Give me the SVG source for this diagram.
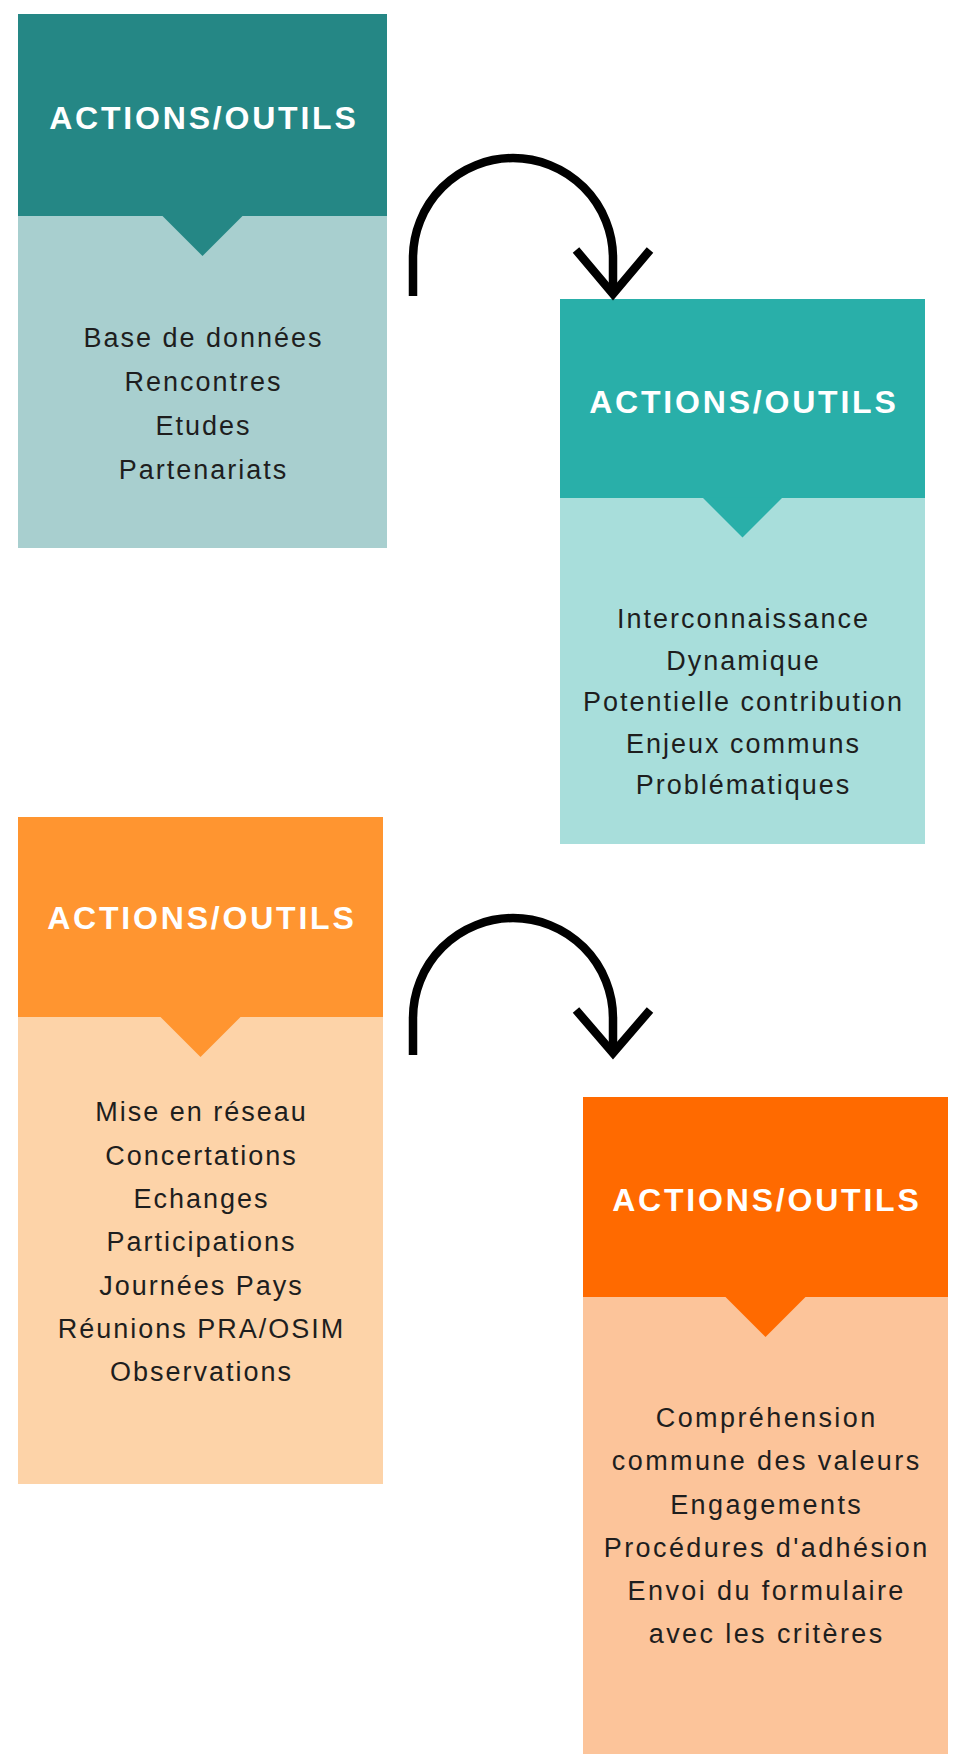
<svg xmlns="http://www.w3.org/2000/svg" width="959" height="1754" viewBox="0 0 959 1754">
<style>
.title{font-family:"Liberation Sans",Arial,sans-serif;font-weight:bold;font-size:32px;fill:#ffffff;text-anchor:middle;letter-spacing:2.8px}
.body{font-family:"Liberation Sans",Arial,sans-serif;font-size:27px;fill:#1e1e1e;text-anchor:middle;letter-spacing:2px}
.arrow{fill:none;stroke:#000000;stroke-width:8.5}
</style>
<rect x="0" y="0" width="959" height="1754" fill="#ffffff"/>
<g id="node1">
<rect x="18" y="14" width="369" height="534" fill="#A8CFCF"/>
<rect x="18" y="14" width="369" height="202" fill="#258785"/>
<polygon points="162.5,216 242.5,216 202.5,256" fill="#258785"/>
<text class="title" x="203.9" y="129">ACTIONS/OUTILS</text>
<text class="body" x="203.5" y="347">Base de données</text>
<text class="body" x="203.5" y="391">Rencontres</text>
<text class="body" x="203.5" y="435">Etudes</text>
<text class="body" x="203.5" y="479">Partenariats</text>
</g>
<g id="node2">
<rect x="560" y="299" width="365" height="545" fill="#A8DEDB"/>
<rect x="560" y="299" width="365" height="199" fill="#29AFA9"/>
<polygon points="702.5,497.5 782.5,497.5 742.5,537.5" fill="#29AFA9"/>
<text class="title" x="743.9" y="413">ACTIONS/OUTILS</text>
<text class="body" x="743.5" y="628">Interconnaissance</text>
<text class="body" x="743.5" y="670">Dynamique</text>
<text class="body" x="743.5" y="711">Potentielle contribution</text>
<text class="body" x="743.5" y="753">Enjeux communs</text>
<text class="body" x="743.5" y="794">Problématiques</text>
</g>
<g id="node3">
<rect x="18" y="817" width="365" height="667" fill="#FDD3A8"/>
<rect x="18" y="817" width="365" height="200" fill="#FF9530"/>
<polygon points="160.5,1017 240.5,1017 200.5,1057" fill="#FF9530"/>
<text class="title" x="201.9" y="929">ACTIONS/OUTILS</text>
<text class="body" x="201.5" y="1121">Mise en réseau</text>
<text class="body" x="201.5" y="1165">Concertations</text>
<text class="body" x="201.5" y="1208">Echanges</text>
<text class="body" x="201.5" y="1251">Participations</text>
<text class="body" x="201.5" y="1295">Journées Pays</text>
<text class="body" x="201.5" y="1338">Réunions PRA/OSIM</text>
<text class="body" x="201.5" y="1381">Observations</text>
</g>
<g id="node4">
<rect x="583" y="1097" width="365" height="657" fill="#FCC49A"/>
<rect x="583" y="1097" width="365" height="200" fill="#FF6A00"/>
<polygon points="725.5,1297 805.5,1297 765.5,1337" fill="#FF6A00"/>
<text class="title" x="766.9" y="1211">ACTIONS/OUTILS</text>
<text class="body" x="766.7" y="1427" style="letter-spacing:2.4px">Compréhension</text>
<text class="body" x="766.7" y="1470" style="letter-spacing:2.4px">commune des valeurs</text>
<text class="body" x="766.7" y="1514" style="letter-spacing:2.4px">Engagements</text>
<text class="body" x="766.7" y="1557" style="letter-spacing:2.4px">Procédures d'adhésion</text>
<text class="body" x="766.7" y="1600" style="letter-spacing:2.4px">Envoi du formulaire</text>
<text class="body" x="766.7" y="1643" style="letter-spacing:2.4px">avec les critères</text>
</g>
<g id="connectors">
<path class="arrow" d="M413,296 V258 A100,100 0 0 1 613,258 V292"/>
<polyline class="arrow" points="576,250 613,294 650,250"/>
<path class="arrow" d="M413,1055 V1018 A100,100 0 0 1 613,1018 V1050"/>
<polyline class="arrow" points="576,1010 613,1053 650,1010"/>
</g>
</svg>
